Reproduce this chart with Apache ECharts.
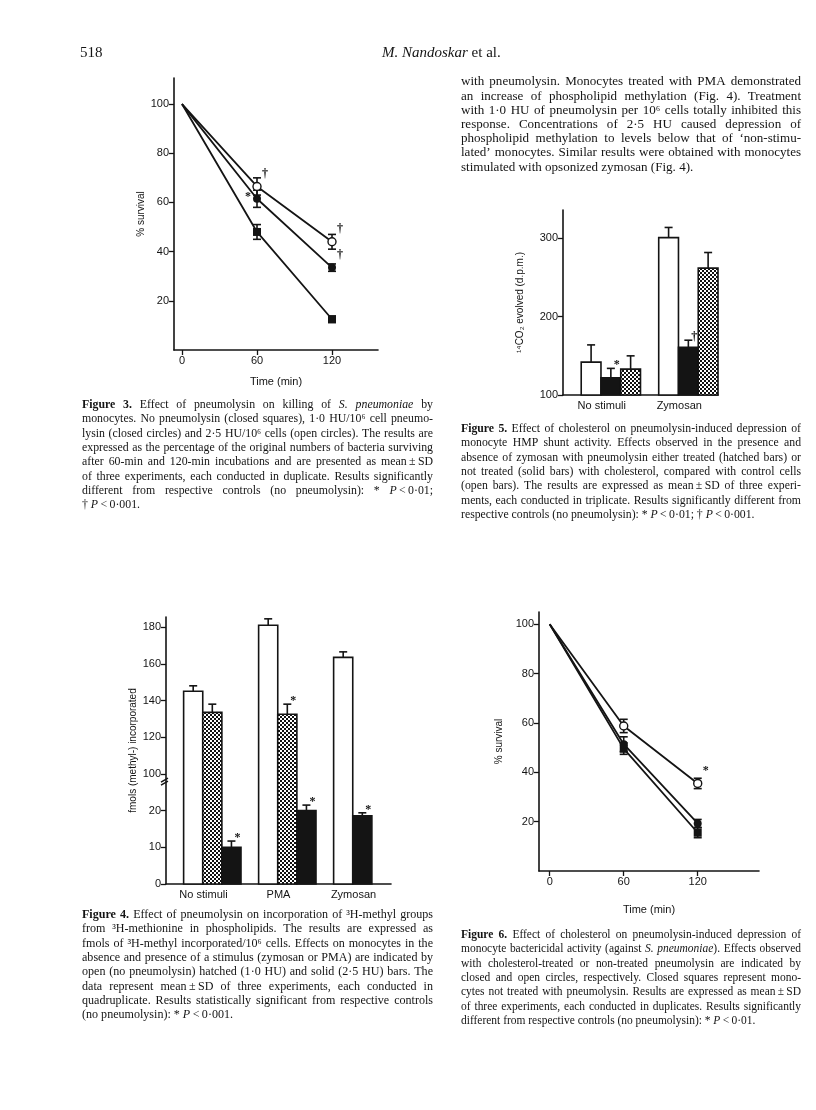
<!DOCTYPE html>
<html><head><meta charset="utf-8">
<script src="https://cdn.jsdelivr.net/npm/echarts@6/dist/echarts.min.js"></script>
<style>html,body{margin:0;padding:0;background:#fff;}#c{width:816px;height:1110px;}</style>
</head><body><div id="c"></div>
<script>
// ---------------- DATA ----------------
// Figure 3: survival (%) vs time
const fig3Time = [0, 60, 120];
const fig3NoPneumo = [100, 48, 12.5];      // closed squares
const fig3NoPneumoSD = [0, 3, 1.3];
const fig3HU10 = [100, 61.5, 33.5];        // closed circles (1.0 HU)
const fig3HU10SD = [0, 3.5, 1.5];
const fig3HU25 = [100, 66.5, 44];          // open circles (2.5 HU)
const fig3HU25SD = [0, 3.5, 3];
const fig3Notes = [[60, 66.5, '†', 'ur'], [60, 61.5, '*', 'l'], [120, 44, '†', 'ur'], [120, 33.5, '†', 'ur']];
const fig3XTicks = [0, 60, 120];
const fig3YTicks = [20, 40, 60, 80, 100];

// Figure 5: 14CO2 evolved (d.p.m.)
const fig5Cats = ['No stimuli', 'Zymosan'];
const fig5Open = [142, 301];
const fig5OpenSD = [22, 13];
const fig5Solid = [122, 161];
const fig5SolidSD = [12, 9];
const fig5Hatched = [133, 262];
const fig5HatchedSD = [17, 20];
const fig5SolidNotes = ['*', '†'];
const fig5YTicks = [100, 200, 300];

// Figure 4: fmols (methyl-) incorporated (broken axis)
const fig4Cats = ['No stimuli', 'PMA', 'Zymosan'];
const fig4Open = [145, 181, 163.5];
const fig4OpenSD = [3, 3.5, 3];
const fig4Hatched = [133.5, 132.5, null];
const fig4HatchedSD = [4.5, 5.5, null];
const fig4Solid = [10, 20, 18.6];
const fig4SolidSD = [1.7, 1.5, 0.8];
const fig4HatchedNotes = [null, '*', null];
const fig4SolidNotes = ['*', '*', '*'];
const fig4YTickLabels = ['0', '10', '20', '100', '120', '140', '160', '180'];

// Figure 6: survival (%) vs time
const fig6Time = [0, 60, 120];
const fig6Open = [100, 58.8, 35.5];        // open circles (non-treated pneumolysin)
const fig6OpenSD = [0, 2.7, 2.1];
const fig6Closed = [100, 51.4, 19.3];      // closed circles (cholesterol-treated)
const fig6ClosedSD = [0, 3, 1.6];
const fig6Square = [100, 49.6, 15.5];      // closed squares (no pneumolysin)
const fig6SquareSD = [0, 2.3, 2];
const fig6Notes = [[120, 35.5, '*', 'ur']];
const fig6XTicks = [0, 60, 120];
const fig6YTicks = [20, 40, 60, 80, 100];

// ---------------- TEXT ----------------
const headerPage = '518';
const bodyLines = [
 'with pneumolysin. Monocytes treated with PMA demonstrated',
 'an increase of phospholipid methylation (Fig. 4). Treatment',
 'with 1·0 HU of pneumolysin per 10⁶ cells totally inhibited this',
 'response. Concentrations of 2·5 HU caused depression of',
 'phospholipid methylation to levels below that of ‘non-stimu-',
 'lated’ monocytes. Similar results were obtained with monocytes',
 'stimulated with opsonized zymosan (Fig. 4).'
];
const cap3 = [
 '~Figure 3.~ Effect of pneumolysin on killing of _S. pneumoniae_ by',
 'monocytes. No pneumolysin (closed squares), 1·0 HU/10⁶ cell pneumo-',
 'lysin (closed circles) and 2·5 HU/10⁶ cells (open circles). The results are',
 'expressed as the percentage of the original numbers of bacteria surviving',
 'after 60-min and 120-min incubations and are presented as mean\u2009±\u2009SD',
 'of three experiments, each conducted in duplicate. Results significantly',
 'different from respective controls (no pneumolysin): * _P_\u2009<\u20090·01;',
 '† _P_\u2009<\u20090·001.'
];
const cap5 = [
 '~Figure 5.~ Effect of cholesterol on pneumolysin-induced depression of',
 'monocyte HMP shunt activity. Effects observed in the presence and',
 'absence of zymosan with pneumolysin either treated (hatched bars) or',
 'not treated (solid bars) with cholesterol, compared with control cells',
 '(open bars). The results are expressed as mean\u2009±\u2009SD of three experi-',
 'ments, each conducted in triplicate. Results significantly different from',
 'respective controls (no pneumolysin): * _P_\u2009<\u20090·01; † _P_\u2009<\u20090·001.'
];
const cap4 = [
 '~Figure 4.~ Effect of pneumolysin on incorporation of ³H-methyl groups',
 'from ³H-methionine in phospholipids. The results are expressed as',
 'fmols of ³H-methyl incorporated/10⁶ cells. Effects on monocytes in the',
 'absence and presence of a stimulus (zymosan or PMA) are indicated by',
 'open (no pneumolysin) hatched (1·0 HU) and solid (2·5 HU) bars. The',
 'data represent mean\u2009±\u2009SD of three experiments, each conducted in',
 'quadruplicate. Results statistically significant from respective controls',
 '(no pneumolysin): * _P_\u2009<\u20090·001.'
];
const cap6 = [
 '~Figure 6.~ Effect of cholesterol on pneumolysin-induced depression of',
 'monocyte bactericidal activity (against _S. pneumoniae_). Effects observed',
 'with cholesterol-treated or non-treated pneumolysin are indicated by',
 'closed and open circles, respectively. Closed squares represent mono-',
 'cytes not treated with pneumolysin. Results are expressed as mean\u2009±\u2009SD',
 'of three experiments, each conducted in duplicates. Results significantly',
 'different from respective controls (no pneumolysin): * _P_\u2009<\u20090·01.'
];

// ---------------- RENDER ----------------
const SERIF = '"Liberation Serif","Times New Roman",serif';
const SANS = '"Liberation Sans",Arial,sans-serif';
const INK = '#141414';
const mctx = document.createElement('canvas').getContext('2d');
function fontStr(s, size){ return (s==='i'?'italic ':'') + (s==='b'?'bold ':'') + size + 'px ' + SERIF; }
function measure(t, s, size){ mctx.font = fontStr(s, size); return mctx.measureText(t).width; }
function parseLine(line){
  const words=[]; let cur=[]; let seg=''; let st='n';
  const flush=()=>{ if(seg){cur.push({t:seg,s:st}); seg='';} };
  for(const ch of line){
    if(ch==='_'){ flush(); st = st==='i'?'n':'i'; }
    else if(ch==='~'){ flush(); st = st==='b'?'n':'b'; }
    else if(ch===' '){ flush(); if(cur.length){words.push(cur); cur=[];} }
    else seg+=ch;
  }
  flush(); if(cur.length) words.push(cur);
  return words;
}
function paragraph(lines, x0, y0, width, lh, baseSize, out){
  let maxW = 0;
  lines.forEach(l=>{ const ws=parseLine(l); let w=0; ws.forEach(wd=>wd.forEach(sg=>w+=measure(sg.t,sg.s,baseSize))); w += (ws.length-1)*measure(' ','n',baseSize); maxW=Math.max(maxW,w); });
  const size = Math.min(baseSize*1.15, baseSize*width*0.985/maxW);
  lines.forEach((line, li)=>{
    const words = parseLine(line);
    const widths = words.map(w=>w.reduce((a,sg)=>a+measure(sg.t,sg.s,size),0));
    const total = widths.reduce((a,b)=>a+b,0);
    const sp = measure(' ','n',size);
    const last = li===lines.length-1;
    const gap = (!last && words.length>1) ? (width-total)/(words.length-1) : sp;
    let x = x0; const y = y0 + li*lh;
    words.forEach((w,wi)=>{
      let xx = x;
      w.forEach(sg=>{
        out.push({type:'text', x:xx, y:y, silent:true, style:{text:sg.t, font:fontStr(sg.s,size), fill:INK, align:'left', verticalAlign:'middle'}});
        xx += measure(sg.t,sg.s,size);
      });
      x += widths[wi] + gap;
    });
  });
}

const graphics = [];
graphics.push({type:'text', x:80, y:53, silent:true, style:{text:headerPage, font:'15px '+SERIF, fill:INK, verticalAlign:'middle'}});
(function(){
  const a='M. Nandoskar', b=' et al.';
  mctx.font='italic 15px '+SERIF; const wa=mctx.measureText(a).width;
  graphics.push({type:'text', x:382, y:53, silent:true, style:{text:a, font:'italic 15px '+SERIF, fill:INK, verticalAlign:'middle'}});
  graphics.push({type:'text', x:382+wa, y:53, silent:true, style:{text:b, font:'15px '+SERIF, fill:INK, verticalAlign:'middle'}});
})();
paragraph(bodyLines, 461, 82, 340, 14.2, 12.5, graphics);
paragraph(cap3, 82, 405, 351, 14.3, 11, graphics);
paragraph(cap5, 461, 429, 340, 14.3, 11, graphics);
paragraph(cap4, 82, 915, 351, 14.3, 11, graphics);
paragraph(cap6, 461, 935, 340, 14.3, 11, graphics);

// hatch pattern
const pc = document.createElement('canvas'); pc.width=4; pc.height=4;
(function(){ const g=pc.getContext('2d'); g.fillStyle='#fff'; g.fillRect(0,0,4,4); g.fillStyle='#111'; g.fillRect(0,0,2,2); g.fillRect(2,2,2,2); })();
const HATCH = {image: pc, repeat: 'repeat'};

function ln(x1,y1,x2,y2,w){ return {type:'line', shape:{x1,y1,x2,y2}, style:{stroke:INK, lineWidth:w||1.5}}; }
const axLine = {show:true, onZero:false, lineStyle:{color:INK, width:1.6}};
const labelStyle = {color:INK, fontFamily:SANS, fontSize:11};
const nameStyle = {color:INK, fontFamily:SANS, fontSize:10};
function valAxis(grid, min, max, ticks, extra){
  return Object.assign({type:'value', gridIndex:grid, min:min, max:max, axisLine:axLine, splitLine:{show:false},
    axisTick:{show:true, customValues:ticks, length:5, lineStyle:{color:INK, width:1.3}},
    axisLabel:Object.assign({customValues:ticks, margin:5}, labelStyle)}, extra||{});
}
function catAxis(grid, cats, extra){
  return Object.assign({type:'category', gridIndex:grid, data:cats, boundaryGap:true, axisLine:axLine,
    axisTick:{show:false}, splitLine:{show:false}, axisLabel:Object.assign({margin:5, interval:0}, labelStyle)}, extra||{});
}
function lineSeries(grid, xs, ys, kind){
  return {type:'line', xAxisIndex:grid, yAxisIndex:grid, z:3, symbol: kind==='square'?'rect':'circle', symbolSize: 8,
    showAllSymbol:true, silent:true,
    data: xs.map((x,i)=> i===0 ? {value:[x,ys[i]], symbol:'none'} : [x,ys[i]]),
    lineStyle:{color:INK, width:1.8},
    itemStyle:{color: kind==='open'?'#fff':INK, borderColor:INK, borderWidth: kind==='open'?1.4:0, opacity:1}};
}
function errSeries(grid, xs, ys, sds){
  const d = []; xs.forEach((x,i)=>{ if(sds[i]>0) d.push([x, ys[i], ys[i]-sds[i], ys[i]+sds[i]]); });
  return {type:'custom', xAxisIndex:grid, yAxisIndex:grid, z:2, silent:true, data:d, encode:{x:0, y:[1,2,3]},
    renderItem:(p,api)=>{ const a=api.coord([api.value(0),api.value(2)]), b=api.coord([api.value(0),api.value(3)]); const cw=4;
      return {type:'group', children:[ln(a[0],a[1],b[0],b[1],1.6), ln(a[0]-cw,a[1],a[0]+cw,a[1],1.6), ln(b[0]-cw,b[1],b[0]+cw,b[1],1.6)]}; }};
}
function noteSeries(grid, notes){
  return {type:'custom', xAxisIndex:grid, yAxisIndex:grid, z:4, silent:true, data:notes.map(n=>[n[0],n[1]]), encode:{x:0,y:1},
    renderItem:(p,api)=>{ const n=notes[p.dataIndex]; const c=api.coord([api.value(0),api.value(1)]);
      const off = n[3]==='l' ? [-9,-2] : [8,-13];
      return {type:'text', x:c[0]+off[0], y:c[1]+off[1], style:{text:n[2], font:'bold 12px '+SERIF, fill:INK, align:'center', verticalAlign:'middle'}}; }};
}
function barSeries(grid, ncat, groups, sds, fills, notes, tf){
  const items=[];
  for(let ci=0; ci<ncat; ci++){ let slot=0; groups.forEach((arr,gi)=>{ const v=arr[ci]; if(v==null) return;
    items.push({ci:ci, v:v, sd:sds[gi][ci], slot:slot++, fill:fills[gi], note: notes[gi] ? notes[gi][ci] : null}); }); }
  return {type:'custom', xAxisIndex:grid, yAxisIndex:grid, z:2, silent:true,
    data: items.map(it=>[it.ci, tf(it.v), tf(it.v+it.sd)]), encode:{x:0, y:[1,2]},
    renderItem:(p,api)=>{
      const it = items[p.dataIndex]; const cs = p.coordSys;
      const band = api.size([1,0])[0];
      const top = api.coord([api.value(0), api.value(1)]);
      const et = api.coord([api.value(0), api.value(2)])[1];
      const w = band*0.255; const x0 = top[0] - band/2 + band*0.235 + it.slot*w;
      const base = cs.y + cs.height; const cx = x0 + w/2;
      const ch = [
        ln(cx, top[1], cx, et, 1.6), ln(cx-4, et, cx+4, et, 1.6),
        {type:'rect', shape:{x:x0, y:top[1], width:w, height:base-top[1]}, style:{fill:it.fill, stroke:INK, lineWidth:1.6}}
      ];
      if(it.note) ch.push({type:'text', x:cx+6, y:et-3, style:{text:it.note, font:'bold 12px '+SERIF, fill:INK, align:'center', verticalAlign:'middle'}});
      return {type:'group', children:ch};
    }};
}
const ident = v=>v;
const fig4Pos = v => v < 60 ? v/10 : fig4YTickLabels.indexOf('100') + (v-100)/20;
const fig4Ticks = fig4YTickLabels.map(l=>fig4Pos(+l));
const fig4BreakPos = 2.83;

const option = {
  animation:false,
  backgroundColor:'#fff',
  grid:[
    {left:174, top:78, width:204, height:272, outerBoundsMode:'none', containLabel:false},
    {left:563, top:210, width:155, height:185, outerBoundsMode:'none', containLabel:false},
    {left:166, top:617, width:225, height:267, outerBoundsMode:'none', containLabel:false},
    {left:539, top:612, width:220, height:259, outerBoundsMode:'none', containLabel:false}
  ],
  xAxis:[
    valAxis(0, -6.4, 156.8, fig3XTicks, {name:'Time (min)', nameLocation:'middle', nameGap:26, nameTextStyle:Object.assign({}, nameStyle, {fontSize:11})}),
    catAxis(1, fig5Cats),
    catAxis(2, fig4Cats),
    valAxis(3, -8.7, 169.7, fig6XTicks, {name:'Time (min)', nameLocation:'middle', nameGap:33, nameTextStyle:Object.assign({}, nameStyle, {fontSize:11})})
  ],
  yAxis:[
    valAxis(0, 0, 110.6, fig3YTicks, {name:'% survival', nameLocation:'middle', nameGap:25, nameTextStyle:nameStyle}),
    valAxis(1, 100, 336.3, fig5YTicks, {name:'¹⁴CO₂ evolved (d.p.m.)', nameLocation:'middle', nameGap:38, nameTextStyle:nameStyle}),
    valAxis(2, 0, 7.275, fig4Ticks, {name:'fmols (methyl-) incorporated', nameLocation:'middle', nameGap:22, nameTextStyle:nameStyle,
      axisLabel:Object.assign({customValues:fig4Ticks, margin:5, formatter:v=>fig4YTickLabels[Math.round(v)]}, labelStyle)}),
    valAxis(3, 0, 105, fig6YTicks, {name:'% survival', nameLocation:'middle', nameGap:35, nameTextStyle:nameStyle})
  ],
  series:[
    errSeries(0, fig3Time, fig3NoPneumo, fig3NoPneumoSD),
    errSeries(0, fig3Time, fig3HU10, fig3HU10SD),
    errSeries(0, fig3Time, fig3HU25, fig3HU25SD),
    lineSeries(0, fig3Time, fig3NoPneumo, 'square'),
    lineSeries(0, fig3Time, fig3HU10, 'closed'),
    lineSeries(0, fig3Time, fig3HU25, 'open'),
    noteSeries(0, fig3Notes),
    barSeries(1, fig5Cats.length, [fig5Open, fig5Solid, fig5Hatched], [fig5OpenSD, fig5SolidSD, fig5HatchedSD], ['#fff', INK, HATCH], [null, fig5SolidNotes, null], ident),
    barSeries(2, fig4Cats.length, [fig4Open, fig4Hatched, fig4Solid], [fig4OpenSD, fig4HatchedSD, fig4SolidSD], ['#fff', HATCH, INK], [null, fig4HatchedNotes, fig4SolidNotes], fig4Pos),
    {type:'custom', xAxisIndex:2, yAxisIndex:2, z:5, silent:true, data:[[0, fig4BreakPos]], encode:{x:0,y:1},
      renderItem:(p,api)=>{ const c=api.coord([0, api.value(1)]); const ax=p.coordSys.x;
        return {type:'group', children:[ln(ax-5, c[1]+2, ax+2, c[1]-2, 1.4), ln(ax-5, c[1]+5, ax+2, c[1]+1, 1.4)]}; }},
    errSeries(3, fig6Time, fig6Square, fig6SquareSD),
    errSeries(3, fig6Time, fig6Closed, fig6ClosedSD),
    errSeries(3, fig6Time, fig6Open, fig6OpenSD),
    lineSeries(3, fig6Time, fig6Square, 'square'),
    lineSeries(3, fig6Time, fig6Closed, 'closed'),
    lineSeries(3, fig6Time, fig6Open, 'open'),
    noteSeries(3, fig6Notes)
  ],
  graphic: graphics
};
const chart = echarts.init(document.getElementById('c'), null, {width:816, height:1110});
chart.setOption(option);
</script>
</body></html>
